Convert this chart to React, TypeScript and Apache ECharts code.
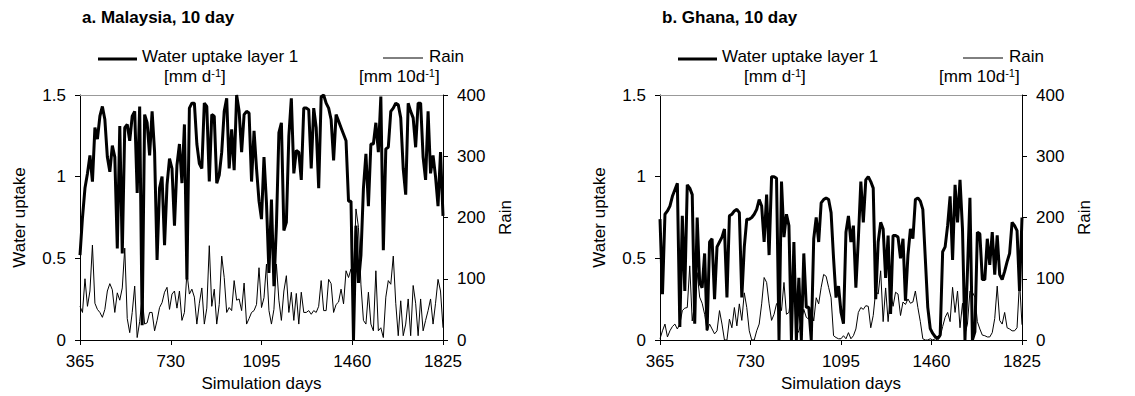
import React, { useEffect, useRef } from "react";
import * as echarts from "echarts";

// ---- Data ----
const DAY_START = 365;
const DAY_STEP = 10;
const X_TICKS = [365, 730, 1095, 1460, 1825];
const PANEL_TITLES = ["a. Malaysia, 10 day", "b. Ghana, 10 day"];

// Malaysia, water uptake layer 1 [mm d-1], every 10 days from day 365
const waterMalaysia = [
  0.52, 0.75, 0.93, 1.02, 1.13, 0.97, 1.30, 1.23, 1.37, 1.43,
  1.35, 1.12, 1.03, 1.19, 1.12, 0.56, 1.31, 0.53, 1.30, 1.32,
  1.22, 1.37, 1.40, 0.90, 1.43, 0.09, 1.38, 1.33, 1.13, 1.40,
  1.15, 0.49, 0.93, 1.00, 0.58, 0.95, 1.11, 1.05, 0.70, 1.07,
  1.20, 0.96, 1.32, 0.37, 1.42, 1.45, 1.45, 1.20, 1.08, 1.05,
  1.45, 1.43, 0.97, 1.38, 1.37, 0.96, 1.01, 1.15, 1.40, 1.48,
  1.05, 1.29, 1.04, 1.50, 1.40, 1.15, 1.38, 1.40, 1.39, 0.97,
  1.28, 1.05, 0.85, 0.74, 1.12, 0.84, 0.41, 0.86, 0.33, 0.70,
  1.27, 1.33, 0.67, 0.72, 1.25, 1.48, 1.02, 1.16, 1.15, 0.98,
  1.42, 1.42, 1.41, 1.05, 1.42, 1.30, 0.93, 1.49, 1.50, 1.45,
  1.42, 1.35, 1.10, 1.38, 1.34, 1.30, 1.26, 1.22, 0.85, 0.85,
  0.00, 0.70, 0.35, 0.52, 0.93, 1.14, 0.82, 1.20, 1.20, 1.33,
  1.15, 1.49, 0.55, 1.17, 1.18, 1.40, 1.42, 1.45, 1.44, 1.36,
  1.05, 0.89, 1.45, 1.40, 1.36, 1.18, 1.45, 1.45, 1.12, 0.98,
  1.40, 1.02, 1.13, 1.00, 0.82, 1.15, 0.76,
];

// Malaysia, rain [mm 10d-1]
const rainMalaysia = [
  55, 45, 100, 55, 80, 155, 60, 50, 45, 37,
  50, 80, 92, 82, 45, 77, 65, 85, 150, 35,
  12, 45, 88, 4, 30, 70, 26, 28, 45, 45,
  15, 32, 53, 61, 78, 86, 50, 75, 80, 52,
  80, 32, 45, 110, 75, 83, 70, 26, 60, 85,
  26, 52, 154, 55, 83, 26, 58, 137, 102, 45,
  53, 48, 97, 65, 67, 48, 93, 26, 35, 45,
  48, 58, 118, 53, 69, 124, 48, 26, 50, 124,
  65, 32, 80, 105, 45, 78, 32, 76, 26, 78,
  45, 45, 48, 42, 48, 45, 55, 97, 48, 48,
  99, 92, 45, 58, 62, 83, 59, 113, 102, 116,
  100, 214, 184, 90, 32, 26, 78, 26, 15, 113,
  15, 20, 4, 70, 97, 91, 137, 60, 7, 64,
  7, 26, 67, 7, 89, 60, 7, 67, 15, 32,
  48, 67, 26, 60, 99, 80, 20,
];

// Ghana, water uptake layer 1 [mm d-1]
const waterGhana = [
  0.74, 0.28, 0.77, 0.79, 0.82, 0.88, 0.92, 0.96, 0.08, 0.76,
  0.30, 0.95, 0.93, 0.89, 0.10, 0.75, 0.35, 0.32, 0.53, 0.06,
  0.60, 0.62, 0.25, 0.57, 0.60, 0.63, 0.68, 0.26, 0.76, 0.77,
  0.79, 0.80, 0.78, 0.26, 0.57, 0.74, 0.74, 0.75, 0.77, 0.80,
  0.86, 0.82, 0.60, 0.89, 0.52, 1.00, 1.00, 0.99, 0.00, 0.97,
  0.63, 0.77, 0.70, 0.00, 0.60, 0.00, 0.38, 0.00, 0.53, 0.20,
  0.20, 0.00, 0.62, 0.75, 0.60, 0.84, 0.86, 0.87, 0.86, 0.78,
  0.50, 0.26, 0.33, 0.17, 0.10, 0.66, 0.76, 0.60, 0.70, 0.32,
  0.62, 0.97, 0.72, 0.98, 1.00, 0.97, 0.93, 0.25, 0.60, 0.72,
  0.68, 0.38, 0.64, 0.16, 0.64, 0.64, 0.63, 0.50, 0.62, 0.24,
  0.52, 0.68, 0.62, 0.86, 0.87, 0.85, 0.80, 0.50, 0.20, 0.07,
  0.04, 0.02, 0.01, 0.03, 0.54, 0.57, 0.70, 0.88, 0.49, 0.95,
  0.72, 0.98, 0.68, 0.00, 0.42, 0.87, 0.00, 0.05, 0.66, 0.65,
  0.37, 0.37, 0.62, 0.46, 0.66, 0.40, 0.64, 0.40, 0.37, 0.42,
  0.48, 0.53, 0.72, 0.70, 0.67, 0.30, 0.75,
];

// Ghana, rain [mm 10d-1]
const rainGhana = [
  2, 15, 26, 5, 15, 22, 26, 18, 26, 48,
  52, 53, 121, 31, 60, 110, 70, 60, 42, 15,
  26, 18, 10, 15, 48, 26, 0, 0, 34, 20,
  53, 23, 59, 32, 77, 53, 15, 0, 0, 15,
  26, 59, 102, 94, 59, 32, 42, 59, 64, 48,
  94, 42, 45, 78, 105, 7, 15, 31, 50, 37,
  34, 48, 31, 69, 59, 86, 107, 104, 86, 69,
  7, 4, 2, 2, 7, 2, 12, 2, 7, 18,
  45, 53, 50, 56, 55, 20, 40, 80, 75, 113,
  30, 85, 30, 80, 55, 78, 75, 40, 62, 58,
  67, 60, 62, 80, 53, 30, 2, 0, 0, 2,
  0, 2, 0, 5, 22, 37, 45, 30, 86, 45,
  80, 20, 60, 10, 26, 80, 78, 70, 30, 18,
  8, 7, 5, 5, 12, 35, 88, 32, 26, 45,
  20, 18, 15, 15, 20, 96, 25,
];

const FONT = '"Liberation Sans", Arial, Helvetica, sans-serif';
const FS = 17;

const toPairs = (vals: number[]) => vals.map((v, i) => [DAY_START + DAY_STEP * i, v]);

const PANELS = [
  { left: 80, width: 363, water: waterMalaysia, rain: rainMalaysia },
  { left: 660, width: 362, water: waterGhana, rain: rainGhana },
];
const GRID_TOP = 95;
const GRID_HEIGHT = 245;

function legendGraphics(x0: number) {
  const txt = (x: number, y: number, text: string, rich?: any) => ({
    type: "text",
    x,
    y,
    style: {
      text,
      fontFamily: FONT,
      fontSize: FS,
      fill: "#000",
      align: "left",
      verticalAlign: "middle",
      lineHeight: 17,
      rich,
    },
  });
  const rich = {
    n: { fontFamily: FONT, fontSize: FS, fill: "#000", verticalAlign: "bottom", lineHeight: 17 },
    s: { fontFamily: FONT, fontSize: 11, fill: "#000", verticalAlign: "top", lineHeight: 17 },
  };
  return [
    { type: "line", shape: { x1: x0 + 18, y1: 59, x2: x0 + 57, y2: 59 }, style: { stroke: "#000", lineWidth: 3 } },
    txt(x0 + 62, 56, "Water uptake layer 1"),
    txt(x0 + 84, 76, "{n|[mm d}{s|-1}{n|]}", rich),
    { type: "line", shape: { x1: x0 + 303, y1: 58, x2: x0 + 343, y2: 58 }, style: { stroke: "#000", lineWidth: 1 } },
    txt(x0 + 349, 56, "Rain"),
    txt(x0 + 279, 76, "{n|[mm 10d}{s|-1}{n|]}", rich),
  ];
}

export default function App() {
  const ref = useRef<HTMLDivElement>(null);
  useEffect(() => {
    if (!ref.current) return;
    const chart = echarts.init(ref.current, null, { renderer: "svg" });

    const grids: any[] = [];
    const xAxes: any[] = [];
    const yAxes: any[] = [];
    const series: any[] = [];
    const titles: any[] = [];
    const graphics: any[] = [];

    PANELS.forEach((p, k) => {
      grids.push({ left: p.left, top: GRID_TOP, width: p.width, height: GRID_HEIGHT, containLabel: false, outerBoundsMode: "none" });
      xAxes.push({
        type: "value",
        gridIndex: k,
        min: X_TICKS[0],
        max: X_TICKS[X_TICKS.length - 1],
        interval: 365,
        position: "bottom",
        name: "Simulation days",
        nameLocation: "middle",
        nameGap: 34,
        nameTextStyle: { fontFamily: FONT, fontSize: FS, color: "#000" },
        axisLine: { onZero: false, lineStyle: { color: "#000", width: 1 } },
        axisTick: { show: true, inside: false, length: 5, lineStyle: { color: "#000" } },
        axisLabel: { fontFamily: FONT, fontSize: FS, color: "#000", margin: 13, formatter: (v: number) => String(v) },
        splitLine: { show: false },
      });
      xAxes.push({
        type: "value",
        gridIndex: k,
        min: X_TICKS[0],
        max: X_TICKS[X_TICKS.length - 1],
        interval: 365,
        position: "top",
        axisLine: { onZero: false, lineStyle: { color: "#999", width: 1 } },
        axisTick: { show: false },
        axisLabel: { show: false },
        splitLine: { show: false },
      });
      yAxes.push({
        type: "value",
        gridIndex: k,
        position: "left",
        min: 0,
        max: 1.5,
        interval: 0.5,
        name: "Water uptake",
        nameLocation: "middle",
        nameGap: 52,
        nameRotate: 90,
        nameTextStyle: { fontFamily: FONT, fontSize: FS, color: "#000" },
        axisLine: { show: true, onZero: false, lineStyle: { color: "#000", width: 1 } },
        axisTick: { show: true, inside: false, length: 5, lineStyle: { color: "#000" } },
        axisLabel: { fontFamily: FONT, fontSize: FS, color: "#000", margin: 14, formatter: (v: number) => String(v) },
        splitLine: { show: false },
      });
      yAxes.push({
        type: "value",
        gridIndex: k,
        position: "right",
        min: 0,
        max: 400,
        interval: 100,
        name: "Rain",
        nameLocation: "middle",
        nameGap: 54,
        nameRotate: 90,
        nameTextStyle: { fontFamily: FONT, fontSize: FS, color: "#000" },
        axisLine: { show: true, onZero: false, lineStyle: { color: "#000", width: 1 } },
        axisTick: { show: true, inside: false, length: 5, lineStyle: { color: "#000" } },
        axisLabel: { fontFamily: FONT, fontSize: FS, color: "#000", margin: 14 },
        splitLine: { show: false },
      });
      series.push({
        type: "line",
        name: "Rain",
        xAxisIndex: 2 * k,
        yAxisIndex: 2 * k + 1,
        data: toPairs(p.rain),
        showSymbol: false,
        symbol: "none",
        lineStyle: { color: "#000", width: 1 },
        z: 2,
      });
      series.push({
        type: "line",
        name: "Water uptake layer 1",
        xAxisIndex: 2 * k,
        yAxisIndex: 2 * k,
        data: toPairs(p.water),
        showSymbol: false,
        symbol: "none",
        lineStyle: { color: "#000", width: 3 },
        z: 3,
      });
      titles.push({
        text: PANEL_TITLES[k],
        left: p.left + 2,
        top: 9,
        padding: 0,
        textStyle: { fontFamily: FONT, fontSize: FS, fontWeight: "bold", color: "#000" },
      });
      graphics.push(...legendGraphics(p.left));
    });

    chart.setOption({
      animation: false,
      backgroundColor: "#fff",
      title: titles,
      grid: grids,
      xAxis: xAxes,
      yAxis: yAxes,
      series,
      graphic: graphics,
    });
    return () => chart.dispose();
  }, []);

  return (
    <div
      ref={ref}
      style={{ position: "fixed", left: 0, top: 0, width: 1135, height: 396, background: "#fff" }}
    />
  );
}
